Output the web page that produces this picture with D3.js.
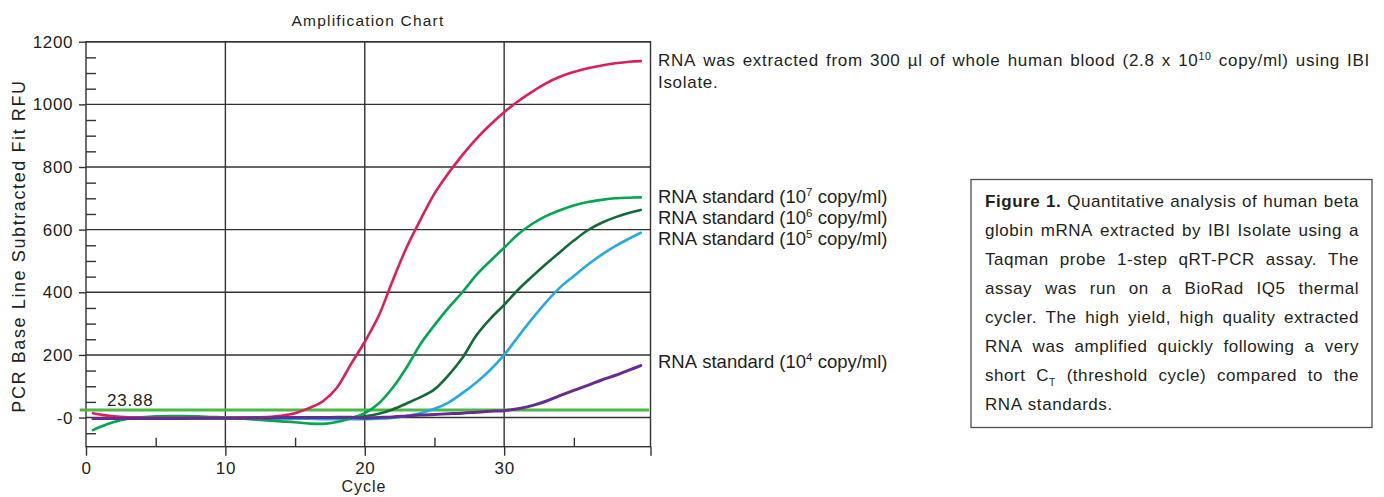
<!DOCTYPE html>
<html><head><meta charset="utf-8">
<script src="https://cdn.jsdelivr.net/npm/d3@7"></script>
<style>
body{margin:0;background:#fff}
svg{display:block}
text{font-family:"Liberation Sans",Arial,Helvetica,sans-serif;fill:#231f20}
</style>
</head><body>
<svg id="c" width="1384" height="497"></svg>
<script>
// ---------------- DATA ----------------
const cycles = [0.5,1,2,3,4,5,6,7,8,9,10,11,12,13,14,15,16,17,18,19,20,21,22,23,24,25,26,27,28,29,30,31,32,33,34,35,36,37,38,39,39.8];
const bloodRFU = [14,10,4,1,0,-1,-1,-1,-1,-1,-1,0,0,2,6,14,30,52,95,170,242,325,437,543,632,715,780,838,890,935,975,1010,1040,1067,1088,1103,1115,1124,1131,1136,1138];
const std7RFU  = [-40,-30,-14,-4,1,4,5,5,4,2,0,-3,-6,-9,-12,-15,-19,-20,-14,-2,14,45,95,160,235,295,350,400,455,500,542,585,618,643,662,677,688,695,700,702,703];
const std6RFU  = [-2,-2,-1,-1,-1,-1,-1,-1,-1,-1,-1,-1,0,0,0,0,0,0,0,1,4,12,26,45,65,90,135,190,262,315,360,408,450,490,528,565,598,622,640,654,663];
const std5RFU  = [-2,-2,-2,-2,-3,-3,-3,-3,-3,-3,-3,-3,-4,-4,-4,-4,-4,-5,-5,-5,-5,-4,-1,5,14,28,48,78,112,152,200,258,315,368,415,452,488,520,548,572,590];
const std4RFU  = [-3,-3,-3,-3,-3,-3,-3,-3,-2,-2,-2,-2,-1,-1,0,0,0,0,1,1,-2,0,2,5,8,10,12,14,17,20,22,28,38,52,70,87,103,120,135,152,166];
const threshold = 23.88;
const yTicks = [0,200,400,600,800,1000,1200];
const yMinor = [-50,50,100,150,250,300,350,450,500,550,650,700,750,850,900,950,1050,1100,1150];
const xTicks = [0,10,20,30];
const xMinor = [5,15,25,35];
const seriesNames = ["blood","std7","std6","std5","std4"];
const seriesLabels = [
  "RNA was extracted from 300 µl of whole human blood (2.8 x 10^10 copy/ml) using IBI",
  "RNA standard (10^7 copy/ml)",
  "RNA standard (10^6 copy/ml)",
  "RNA standard (10^5 copy/ml)",
  "RNA standard (10^4 copy/ml)"
];
const captionLines = [
  "**Figure **1. Quantitative analysis of human beta",
  "globin mRNA extracted by IBI Isolate using a",
  "Taqman probe 1-step qRT-PCR assay. The",
  "assay was run on a BioRad IQ5 thermal",
  "cycler. The high yield, high quality extracted",
  "RNA was amplified quickly following a very",
  "short C_T (threshold cycle) compared to the",
  "RNA standards."
];

// ---------------- CHART ----------------
const svg = d3.select("#c");
svg.append("rect").attr("width",1384).attr("height",497).attr("fill","#fff");

const x = d3.scaleLinear().domain([0,40.5]).range([86,650.5]);
const y = d3.scaleLinear().domain([-93,1200]).range([446.7,41.7]);
const gridCol = "#333";

// grid
const grid = svg.append("g").attr("stroke",gridCol).attr("stroke-width",1.4);
grid.selectAll(".hy").data(yTicks).join("line")
  .attr("x1",x(0)).attr("x2",x(40.5)).attr("y1",d=>y(d)).attr("y2",d=>y(d));
grid.selectAll(".vx").data(xTicks.filter(d=>d>0)).join("line")
  .attr("y1",y(-93)).attr("y2",y(1200)).attr("x1",d=>x(d)).attr("x2",d=>x(d));
svg.append("rect").attr("x",x(0)).attr("y",y(1200)).attr("width",x(40.5)-x(0)).attr("height",y(-93)-y(1200))
  .attr("fill","none").attr("stroke",gridCol).attr("stroke-width",1.4);

function styleAxis(g){
  g.select(".domain").remove();
  g.selectAll("line").attr("stroke",gridCol).attr("stroke-width",1.4);
  g.selectAll("text").attr("fill","#231f20").style("font-size","17px").style("letter-spacing","0.6px")
    .style("font-family",'"Liberation Sans",Arial,sans-serif');
}
svg.append("g").attr("transform",`translate(${x(0)},0)`)
  .call(d3.axisLeft(y).tickValues(yTicks).tickSize(7).tickPadding(6).tickFormat(d=>d===0?"-0":d))
  .call(styleAxis);
svg.append("g").attr("transform",`translate(${x(0)},0)`)
  .call(d3.axisRight(y).tickValues(yMinor).tickSize(10).tickFormat(""))
  .call(styleAxis);
svg.append("g").attr("transform",`translate(0,${y(-93)})`)
  .call(d3.axisBottom(x).tickValues(xTicks.concat([40.5])).tickSize(9).tickPadding(6).tickFormat(d=>d>40?"":d))
  .call(styleAxis);
svg.append("g").attr("transform",`translate(0,${y(-93)})`)
  .call(d3.axisTop(x).tickValues(xMinor).tickSize(9).tickFormat(""))
  .call(styleAxis);

// titles
svg.append("text").attr("x",368).attr("y",26).attr("text-anchor","middle")
  .style("font-size","15.5px").style("letter-spacing","1.2px").text("Amplification Chart");
svg.append("text").attr("transform","translate(25,246) rotate(-90)").attr("text-anchor","middle")
  .style("font-size","18px").style("letter-spacing","1.6px").text("PCR Base Line Subtracted Fit RFU");
svg.append("text").attr("x",364).attr("y",492).attr("text-anchor","middle")
  .style("font-size","16px").style("letter-spacing","1px").text("Cycle");

// threshold
svg.append("line").attr("x1",x(-0.45)).attr("x2",x(40.4)).attr("y1",y(threshold)).attr("y2",y(threshold))
  .attr("stroke","#4db848").attr("stroke-width",3);
svg.append("text").attr("x",107).attr("y",y(threshold)-4.5).style("font-size","17px").style("letter-spacing","0.8px")
  .text(threshold.toFixed(2));

// curves
const series = {blood:bloodRFU, std7:std7RFU, std6:std6RFU, std5:std5RFU, std4:std4RFU};
const colors = {blood:"#dc1f5c", std7:"#00a651", std6:"#15683a", std5:"#27aae1", std4:"#662d91"};
const widths = {blood:2.6, std7:2.6, std6:2.6, std5:2.6, std4:3};
const line = d3.line().x((d,i)=>x(cycles[i])).y(d=>y(d)).curve(d3.curveCatmullRom.alpha(0.5));
["std5","std6","std7","blood","std4"].forEach(k=>{
  svg.append("path").datum(series[k]).attr("d",line).attr("fill","none")
    .attr("stroke",colors[k]).attr("stroke-width",widths[k]).attr("stroke-linejoin","round").attr("stroke-linecap","round");
});

// ---------------- rich text helpers ----------------
function drawWord(g, w, xx, yy, size, ls){
  let bold=false;
  const t = g.append("text").attr("x",xx).attr("y",yy).style("font-size",size+"px").style("letter-spacing",ls+"px");
  if (w.startsWith("**")) { bold=true; w=w.slice(2); }
  if (bold) t.style("font-weight","bold");
  let m;
  if ((m = w.match(/^(.*)\^(.*)$/))) {
    t.append("tspan").text(m[1]);
    t.append("tspan").style("font-size",(size*0.62)+"px").attr("dy",-size*0.38).text(m[2]);
  } else if ((m = w.match(/^(.*)_(.*)$/))) {
    t.append("tspan").text(m[1]);
    t.append("tspan").style("font-size",(size*0.6)+"px").attr("dy",size*0.28).text(m[2]);
  } else t.text(w);
  return t;
}
function drawLine(g, str, x0, yy, size, ls, width){
  const words = [];
  str.split(" ").forEach(w=>{ if(w.length) words.push(w); });
  let boldRun=false;
  const wl = words.map(w=>{
    if (w.startsWith("**")) { boldRun=true; w=w.slice(2); }
    let b = boldRun;
    if (boldRun && w.endsWith(".")) boldRun=false;
    return (b?"**":"")+w;
  });
  const nodes = wl.map(w=>drawWord(g,w,x0,yy,size,ls));
  const ws = nodes.map(n=>n.node().getComputedTextLength());
  const sum = d3.sum(ws);
  const gap = width ? (width-sum)/(wl.length-1) : size*0.278+ls;
  let cx = x0;
  nodes.forEach((n,i)=>{ n.attr("x",cx); cx += ws[i]+gap; });
}

// series labels
const lab = svg.append("g");
drawLine(lab, seriesLabels[0], 658, 66, 17, 0.7, 712);
drawLine(lab, "Isolate.", 658, 88, 17, 0.7, null);
drawLine(lab, seriesLabels[1], 658, 203, 18.5, 0, null);
drawLine(lab, seriesLabels[2], 658, 224, 18.5, 0, null);
drawLine(lab, seriesLabels[3], 658, 245, 18.5, 0, null);
drawLine(lab, seriesLabels[4], 658, 368, 18.5, 0, null);

// caption box
svg.append("rect").attr("x",971).attr("y",179.5).attr("width",401).attr("height",248)
  .attr("fill","none").attr("stroke","#4d4d4d").attr("stroke-width",1.3);
const cap = svg.append("g");
captionLines.forEach((l,i)=>{
  drawLine(cap, l, 985, 206.7+i*29.1, 17, 0.55, i<captionLines.length-1 ? 374 : null);
});
</script>
</body></html>
